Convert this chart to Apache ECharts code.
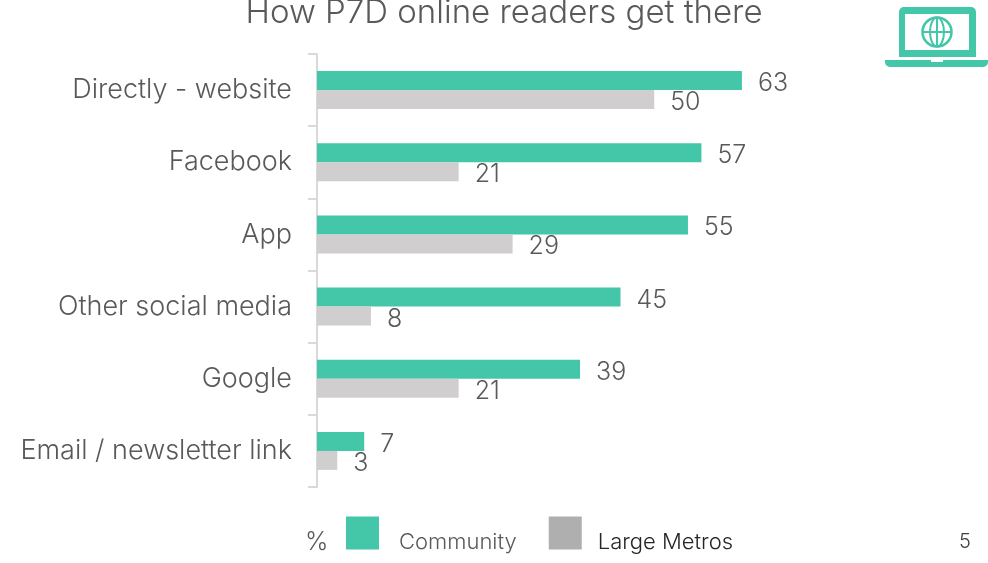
<!DOCTYPE html>
<html>
<head>
<meta charset="utf-8">
<style>
  html, body { margin: 0; padding: 0; background: #fff; }
  #main { width: 988px; height: 563px; }
</style>
<script src="https://cdn.jsdelivr.net/npm/echarts@6/dist/echarts.min.js"></script>
</head>
<body>
<div id="main"></div>
<script>
var categories = ['Directly - website', 'Facebook', 'App', 'Other social media', 'Google', 'Email / newsletter link'];
var community = [63, 57, 55, 45, 39, 7];
var largeMetros = [50, 21, 29, 8, 21, 3];

var teal = '#44C6A9';
var grey = '#D0CECE';
var font = 'Inter';
var textColor = '#595959';

var chart = echarts.init(document.getElementById('main'));

chart.setOption({
  animation: false,
  textStyle: { fontFamily: font, fontWeight: 300 },
  title: {
    text: 'How P7D online readers get there',
    left: 499, top: -8, textAlign: 'center',
    textStyle: { fontFamily: font, fontSize: 33, fontWeight: 300, color: textColor }
  },
  grid: { left: 317, top: 54, width: 607, height: 433 },
  xAxis: { type: 'value', min: 0, max: 90, show: false },
  yAxis: {
    type: 'category', inverse: true, data: categories,
    axisLine: { lineStyle: { color: '#D9D9D9', width: 2 } },
    axisTick: { show: true, length: 9, lineStyle: { color: '#D9D9D9', width: 2 } },
    axisLabel: { fontSize: 27, color: textColor, margin: 25, fontFamily: font, fontWeight: 300 }
  },
  legend: {
    left: 346, top: 513, padding: 0, itemWidth: 33, itemHeight: 33, itemGap: 32, icon: 'rect',
    // empty first line pushes the label below the middle of the square
    formatter: '\n{name}',
    data: [
      { name: 'Community', itemStyle: { color: teal }, textStyle: { color: textColor, padding: [0, 0, 0, 15] } },
      { name: 'Large Metros', itemStyle: { color: '#AFAFAF' }, textStyle: { color: '#262626', padding: [0, 0, 0, 11] } }
    ],
    textStyle: { fontSize: 22, lineHeight: 18, fontFamily: font, fontWeight: 300 }
  },
  series: [
    {
      name: 'Community', type: 'bar', data: community, barWidth: 19, barGap: 0,
      itemStyle: { color: teal },
      label: { show: true, position: 'right', distance: 16, offset: [0, 3], fontSize: 25, fontWeight: 300, color: textColor }
    },
    {
      name: 'Large Metros', type: 'bar', data: largeMetros, barWidth: 19, barGap: 0,
      itemStyle: { color: grey },
      label: { show: true, position: 'right', distance: 16, offset: [0, 3], fontSize: 25, fontWeight: 300, color: textColor }
    }
  ],
  graphic: [
    { type: 'text', left: 305, top: 530, style: { text: '%', fontSize: 25, fontFamily: font, fontWeight: 300, fill: textColor } },
    { type: 'text', left: 959, top: 532, style: { text: '5', fontSize: 20, fontFamily: font, fontWeight: 300, fill: '#404040' } },
    // laptop icon
    {
      type: 'group', left: 885, top: 7, silent: true,
      children: [
        { type: 'rect', shape: { x: 14, y: 0, width: 77, height: 50, r: [5, 5, 0, 0] }, style: { fill: teal } },
        { type: 'rect', shape: { x: 20, y: 7, width: 64, height: 36 }, style: { fill: '#fff' } },
        { type: 'rect', shape: { x: 0, y: 53, width: 103, height: 7, r: [0, 0, 5, 5] }, style: { fill: teal } },
        { type: 'rect', shape: { x: 46, y: 53, width: 12, height: 2 }, style: { fill: '#fff' } },
        { type: 'circle', shape: { cx: 52, cy: 25, r: 14.5 }, style: { fill: 'none', stroke: teal, lineWidth: 2.5 } },
        { type: 'ellipse', shape: { cx: 52, cy: 25, rx: 7, ry: 14.5 }, style: { fill: 'none', stroke: teal, lineWidth: 2 } },
        { type: 'line', shape: { x1: 52, y1: 10.5, x2: 52, y2: 39.5 }, style: { stroke: teal, lineWidth: 2 } },
        { type: 'line', shape: { x1: 37.5, y1: 25, x2: 66.5, y2: 25 }, style: { stroke: teal, lineWidth: 2 } }
      ]
    }
  ]
});
</script>
</body>
</html>
